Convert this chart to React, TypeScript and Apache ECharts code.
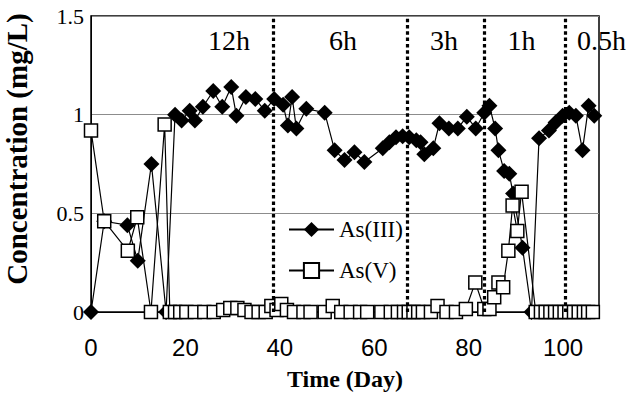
import React, { useEffect, useRef } from "react";
import * as echarts from "echarts";

// As(III) measurements: day, concentration (mg/L)
const as3Days = [0, 2.8, 7.7, 9.9, 12.8, 15.9, 17.8, 19.2, 20.9, 22, 23.7, 25.9, 27.8, 29.7, 30.8, 32.8, 34.8, 36.8, 38.8, 40.7, 41.7, 42.6, 43.5, 45.6, 49.5, 51.6, 53.7, 55.8, 57.9, 61.8, 63.2, 64.6, 66, 67.4, 68.9, 69.8, 70.6, 72.5, 73.8, 75.8, 77.7, 79.6, 81.5, 83.3, 84.4, 85.6, 86.3, 87.5, 88.6, 89.4, 91.4, 93.3, 94.9, 97, 98.4, 99.9, 101.3, 102.7, 104.1, 105.4, 106.6];
const as3Values = [0, 0.46, 0.44, 0.26, 0.75, 0, 1.0, 0.97, 1.02, 0.97, 1.04, 1.12, 1.04, 1.14, 0.995, 1.09, 1.08, 1.02, 1.08, 1.05, 0.945, 1.09, 0.93, 1.03, 1.01, 0.82, 0.77, 0.81, 0.76, 0.83, 0.86, 0.886, 0.89, 0.886, 0.87, 0.86, 0.8, 0.83, 0.956, 0.93, 0.93, 0.99, 0.93, 1.01, 1.045, 0.93, 0.82, 0.715, 0.7, 0.6, 0.325, 0, 0.88, 0.92, 0.96, 0.995, 1.01, 0.995, 0.82, 1.045, 0.995];

// As(V) measurements: day, concentration (mg/L)
const as5Days = [0, 2.8, 7.8, 9.8, 12.7, 15.6, 16.7, 17.8, 18.9, 20.2, 22, 24, 26, 28, 29.5, 31, 32.5, 34, 35.5, 37, 38.2, 39.3, 40.3, 41.5, 43, 45, 46.5, 49.5, 51.2, 53, 55, 57, 58.5, 61.5, 63.5, 65, 66.3, 67.3, 68.3, 69.3, 70.3, 72, 73.4, 75.3, 77.3, 79.4, 81.4, 83.3, 84.4, 85.4, 86.3, 87.3, 88.4, 89.3, 90.3, 91.2, 94.2, 95.3, 96.3, 97.3, 98.3, 99.3, 100.3, 101.3, 102.3, 103.3, 104.4, 105.3, 106.3];
const as5Values = [0.92, 0.46, 0.31, 0.48, 0, 0.95, 0, 0, 0, 0, 0, 0, 0, 0.01, 0.02, 0.02, 0.01, 0, 0, 0, 0.03, 0.01, 0.04, 0.01, 0, 0, 0, 0, 0.03, 0, 0, 0, 0, 0, 0, 0, 0, 0, 0, 0, 0, 0, 0.03, 0, 0, 0.015, 0.15, 0.015, 0.015, 0.075, 0.15, 0.125, 0.31, 0.54, 0.41, 0.61, 0, 0, 0, 0, 0, 0, 0, 0, 0, 0, 0, 0, 0];

// Phase boundaries (day) and phase labels
const phaseBoundaries = [38.7, 67.0, 83.4, 100.5];
const phaseLabels = ["12h", "6h", "3h", "1h", "0.5h"];

const SERIF = "Liberation Serif";
const SANS = "Liberation Sans";

export default function App() {
  const ref = useRef<HTMLDivElement>(null);

  useEffect(() => {
    if (!ref.current) return;
    const chart = echarts.init(ref.current, undefined, { renderer: "svg" });

    const as3 = as3Days.map((d, i) => [d, as3Values[i]]);
    const as5 = as5Days.map((d, i) => [d, as5Values[i]]);

    const labelX = [229, 343, 444, 521.5, 601.5];

    chart.setOption({
      animation: false,
      backgroundColor: "#fff",
      grid: {
        left: 91,
        right: 31,
        top: 16,
        bottom: 83,
        show: true,
        borderColor: "#000",
        borderWidth: 1.5,
        backgroundColor: "transparent",
      },
      xAxis: {
        type: "value",
        min: 0,
        max: 107.6,
        interval: 20,
        axisLine: { show: true, lineStyle: { color: "#000", width: 1 } },
        axisTick: { show: false },
        splitLine: { show: false },
        axisLabel: {
          showMaxLabel: false,
          margin: 23,
          fontFamily: SANS,
          fontSize: 24,
          color: "#000",
        },
        name: "Time (Day)",
        nameLocation: "middle",
        nameGap: 55,
        nameTextStyle: {
          fontFamily: SERIF,
          fontWeight: "bold",
          fontSize: 24,
          color: "#000",
        },
      },
      yAxis: {
        type: "value",
        min: 0,
        max: 1.5,
        interval: 0.5,
        axisLine: { show: true, lineStyle: { color: "#000", width: 1 } },
        axisTick: { show: false },
        splitLine: { show: true, lineStyle: { color: "#8c8c8c", width: 1 } },
        axisLabel: {
          margin: 7,
          fontFamily: SERIF,
          fontSize: 22,
          color: "#000",
        },
      },
      legend: {
        orient: "vertical",
        left: 283,
        top: 213,
        itemWidth: 45,
        itemHeight: 19,
        itemGap: 18,
        data: ["As(III)", "As(V)"],
        textStyle: { fontFamily: SERIF, fontSize: 23, color: "#000" },
      },
      graphic: [
        ...phaseLabels.map((t, i) => ({
          type: "text",
          x: labelX[i],
          y: 40,
          style: {
            text: t,
            fontFamily: SERIF,
            fontSize: 28,
            fontWeight: "normal",
            fill: "#000",
            textAlign: "center",
            textVerticalAlign: "middle",
          },
          z: 10,
        })),
        {
          type: "text",
          x: 17,
          y: 149,
          rotation: Math.PI / 2,
          style: {
            text: "Concentration (mg/L)",
            fontFamily: SERIF,
            fontSize: 29,
            fontWeight: "bold",
            fill: "#000",
            textAlign: "center",
            textVerticalAlign: "middle",
          },
        },
      ],
      series: [
        {
          name: "As(III)",
          type: "line",
          data: as3,
          symbol: "diamond",
          symbolSize: 16,
          showAllSymbol: true,
          clip: false,
          lineStyle: { color: "#000", width: 1.2 },
          itemStyle: { color: "#000" },
          z: 2,
        },
        {
          name: "As(V)",
          type: "line",
          data: as5,
          symbol: "rect",
          symbolSize: 13,
          showAllSymbol: true,
          clip: false,
          lineStyle: { color: "#000", width: 1.2 },
          itemStyle: { color: "#fff", borderColor: "#000", borderWidth: 1.5 },
          z: 3,
        },
        {
          name: "phases",
          type: "line",
          data: [],
          z: 5,
          markLine: {
            silent: true,
            symbol: ["none", "none"],
            label: { show: false },
            lineStyle: { color: "#000", type: [3.5, 2.8], width: 3.2 },
            data: phaseBoundaries.map((x) => ({ xAxis: x })),
          },
        },
      ],
    });

    return () => {
      chart.dispose();
    };
  }, []);

  return (
    <div
      ref={ref}
      style={{ position: "fixed", left: 0, top: 0, width: 630, height: 396 }}
    />
  );
}
